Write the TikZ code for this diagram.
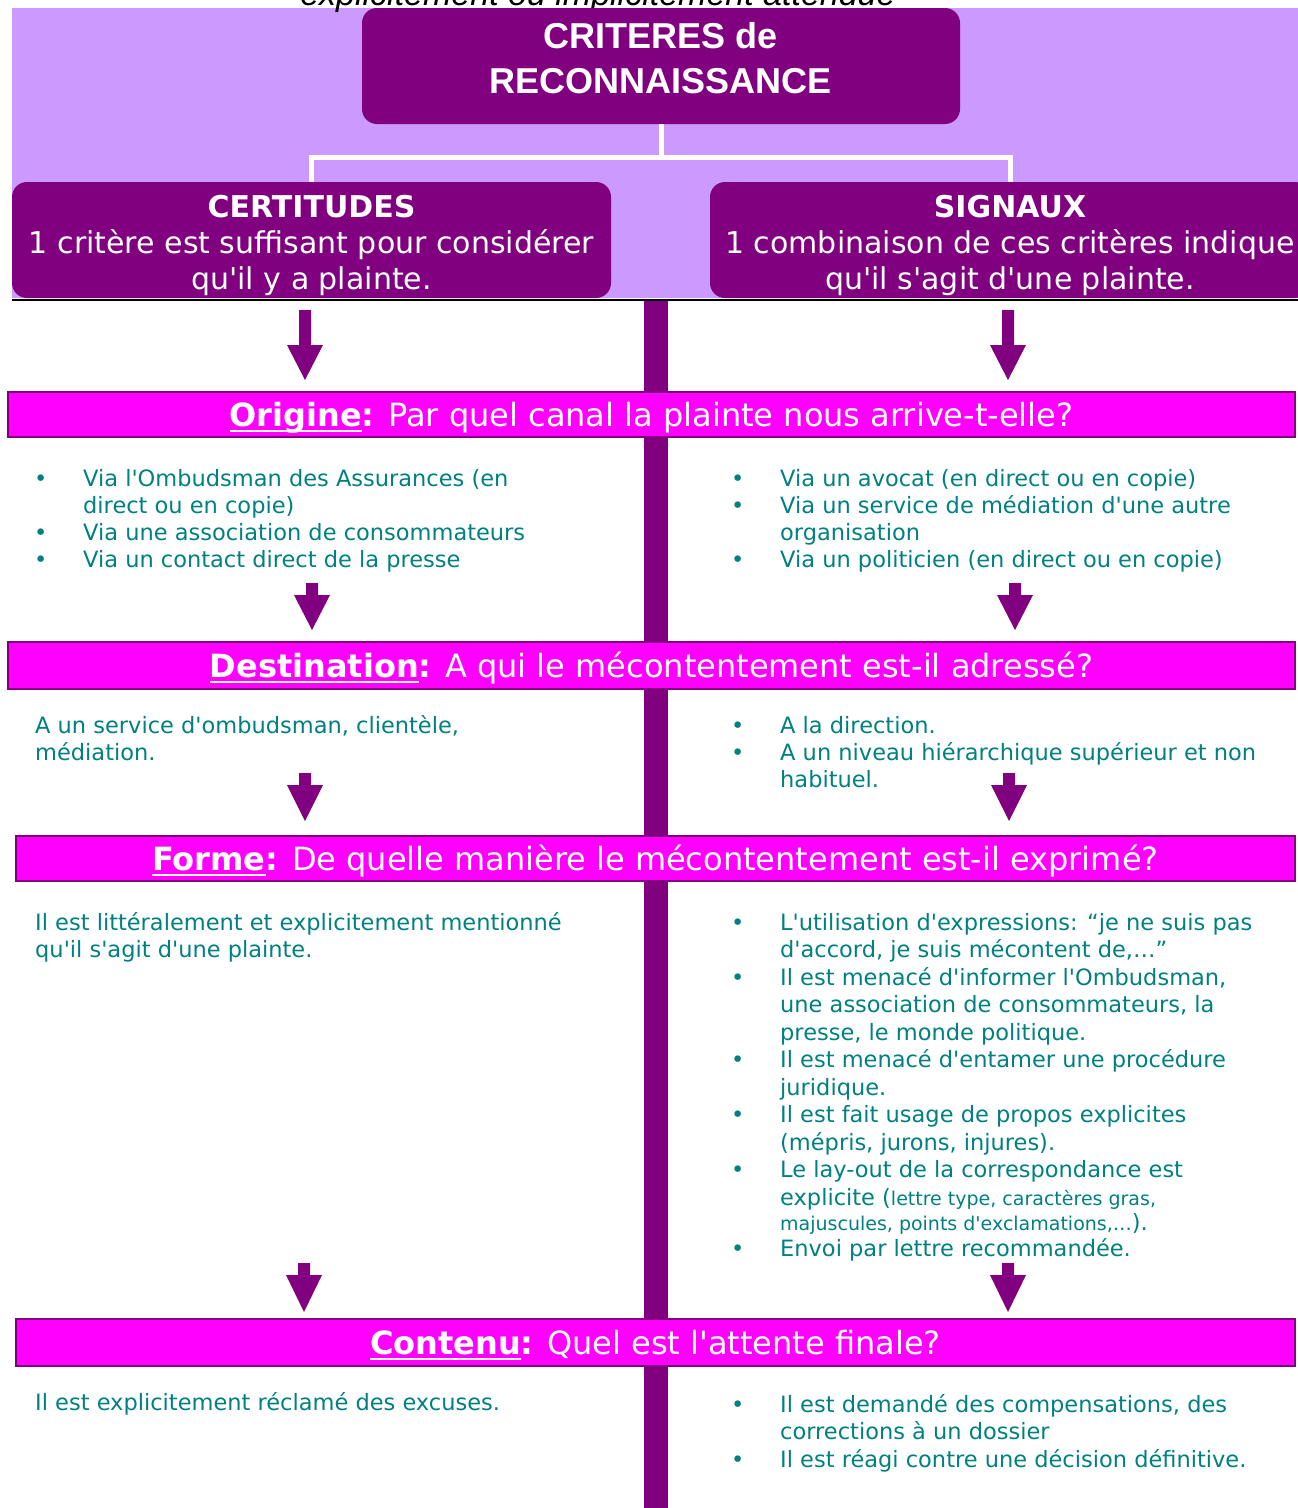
\documentclass[tikz,border=0pt]{standalone}
\usepackage{fontspec}
\setmainfont{DejaVu Sans}[Ligatures=TeXOff]
\newfontfamily\arialf{Liberation Sans}[Ligatures=TeXOff]
\usetikzlibrary{calc}
\definecolor{lav}{HTML}{CC99FF}
\definecolor{pur}{HTML}{800080}
\definecolor{mag}{HTML}{FF00FF}
\definecolor{tealc}{HTML}{008080}
\newcommand\bul{\makebox[49pt][l]{•}}
\newcommand\indt{\hspace*{49pt}}
\newcommand\mylist[1]{\begin{tabular}[t]{@{}l@{}}#1\end{tabular}}
\newcommand\mycenter[1]{\begin{tabular}[t]{@{}c@{}}#1\end{tabular}}
\newcommand\ulw[1]{\setbox0\hbox{#1}\rlap{\rule[-5.5pt]{\wd0}{2.2pt}}\box0}
\newcommand\blockarrow[4]{%
  \fill[pur] (#1-6,#2) -- (#1+6,#2) -- (#1+6,#3) -- (#1+18,#3) -- (#1,#4) -- (#1-18,#3) -- (#1-6,#3) -- cycle;}
\begin{document}
\begin{tikzpicture}[x=1pt,y=-1pt,
  wline/.style={draw=white,line width=5pt},
  rbox/.style={fill=pur,rounded corners=15pt,inner sep=0pt},
  boxtext/.style={anchor=base,inner sep=0pt,text=white},
  band/.style={draw=pur,line width=2pt,fill=mag,inner sep=0pt,text=white,
    font=\fontsize{32}{38}\selectfont,text height=29pt,text depth=5pt},
  lst/.style={anchor=base west,inner sep=0pt,text=tealc,font=\fontsize{22.5}{27}\selectfont},
  lstb/.style={anchor=base west,inner sep=0pt,text=tealc,font=\fontsize{22.5}{27.5}\selectfont}]
\useasboundingbox (0,0) rectangle (1298,1508);
% lavender header background
\fill[lav] (12,8) rectangle (1298,298);
\node[anchor=base,inner sep=0pt,font=\arialf\itshape\fontsize{34}{40}\selectfont] (topnote) at (598,5) {explicitement ou implicitement attendue};
% central bar
\fill[pur] (644,301) rectangle (668,1508);
% title
\node[rbox,minimum width=598pt,minimum height=116pt] (title) at (661,66) {};
\node[boxtext,font=\arialf\bfseries\fontsize{36}{45}\selectfont] (titleT) at (661,48) {\mycenter{CRITERES de\\RECONNAISSANCE}};
% two header boxes
\node[rbox,minimum width=599pt,minimum height=116pt] (cert) at (311.5,240) {};
\node[boxtext,font=\fontsize{30}{36}\selectfont] (certT) at (311.5,217) {\mycenter{\textbf{CERTITUDES}\\1 critère est suffisant pour considérer\\qu'il y a plainte.}};
\node[rbox,minimum width=600pt,minimum height=116pt] (sig) at (1010,240) {};
\node[boxtext,font=\fontsize{30}{36}\selectfont] (sigT) at (1010,217) {\mycenter{\textbf{SIGNAUX}\\1 combinaison de ces critères indique\\qu'il s'agit d'une plainte.}};
% white connectors
\coordinate (split) at ($(title.south)+(0,33)$);
\draw[wline] (title.south) -- (split) -| (cert.north);
\draw[wline] (split) -| (sig.north);
% black rule
\coordinate (ruleL) at (12,300);
\coordinate (ruleR) at (1298,300);
\draw[line width=2.5pt] (ruleL) -- (ruleR);
% arrows
\blockarrow{305}{310}{345}{380}
\blockarrow{1008}{310}{345}{380}
\blockarrow{312}{583}{595}{630}
\blockarrow{1015}{583}{595}{630}
\blockarrow{305}{773}{785}{821}
\blockarrow{1009}{773}{785}{821}
\blockarrow{304}{1263}{1275}{1312}
\blockarrow{1008}{1263}{1275}{1312}
% bands
\node[band,minimum width=1287pt,minimum height=45pt] (origine) at (651.5,414.5)
  {\ulw{\textbf{Origine}}\textbf{:} Par quel canal la plainte nous arrive-t-elle?};
\node[band,minimum width=1287pt,minimum height=47pt] (destination) at (651.5,665.5)
  {\ulw{\textbf{Destination}}\textbf{:} A qui le mécontentement est-il adressé?};
\node[band,minimum width=1279pt,minimum height=45pt] (forme) at (655.5,858.5)
  {\ulw{\textbf{Forme}}\textbf{:} De quelle manière le mécontentement est-il exprimé?};
\node[band,minimum width=1279pt,minimum height=47pt] (contenu) at (655.5,1342.5)
  {\ulw{\textbf{Contenu}}\textbf{:} Quel est l'attente finale?};
% Origine lists
\node[lst] (oL) at (34,486) {\mylist{\bul Via l'Ombudsman des Assurances (en\\
  \indt direct ou en copie)\\
  \bul Via une association de consommateurs\\
  \bul Via un contact direct de la presse}};
\node[lst] (oR) at (731,486) {\mylist{\bul Via un avocat (en direct ou en copie)\\
  \bul Via un service de médiation d'une autre\\
  \indt organisation\\
  \bul Via un politicien (en direct ou en copie)}};
% Destination
\node[lst] (dL) at (35,733) {\mylist{A un service d'ombudsman, clientèle,\\médiation.}};
\node[lst] (dR) at (731,733) {\mylist{\bul A la direction.\\
  \bul A un niveau hiérarchique supérieur et non\\
  \indt habituel.}};
% Forme
\node[lstb] (fL) at (35,930) {\mylist{Il est littéralement et explicitement mentionné\\qu'il s'agit d'une plainte.}};
\node[lstb] (fR) at (731,930) {\mylist{\bul L'utilisation d'expressions: “je ne suis pas\\
  \indt d'accord, je suis mécontent de,…”\\
  \bul Il est menacé d'informer l'Ombudsman,\\
  \indt une association de consommateurs, la\\
  \indt presse, le monde politique.\\
  \bul Il est menacé d'entamer une procédure\\
  \indt juridique.\\
  \bul Il est fait usage de propos explicites\\
  \indt (mépris, jurons, injures).\\
  \bul Le lay-out de la correspondance est\\
  \indt explicite ({\fontsize{19}{22}\selectfont lettre type, caractères gras,}}};
\node[anchor=base west,inner sep=0pt,text=tealc,font=\fontsize{22.5}{26}\selectfont] (fR2) at (731,1230) {\mylist{\indt{\fontsize{19}{22}\selectfont majuscules, points d'exclamations,…}).\\
  \bul Envoi par lettre recommandée.}};
% Contenu
\node[lstb] (cL) at (35,1410) {Il est explicitement réclamé des excuses.};
\node[lstb] (cR) at (731,1412) {\mylist{\bul Il est demandé des compensations, des\\
  \indt corrections à un dossier\\
  \bul Il est réagi contre une décision définitive.}};
\end{tikzpicture}
\end{document}
